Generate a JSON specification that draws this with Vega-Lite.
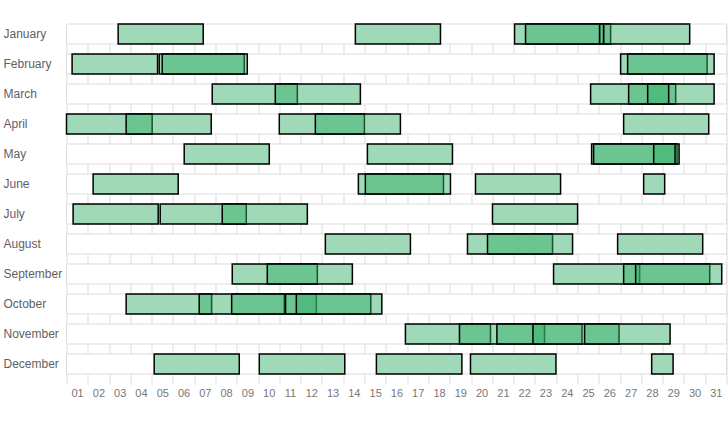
{
  "$schema": "https://vega.github.io/schema/vega-lite/v6.json",
  "width": 660,
  "height": 360,
  "autosize": {"type": "none"},
  "padding": {"left": 66.5, "top": 24, "right": 1.5, "bottom": 41},
  "background": "white",
  "config": {
    "view": {"stroke": null},
    "font": "Liberation Sans",
    "axisX": {"labelFont": "Liberation Sans", "labelFontSize": 11, "labelColor": "#777777"},
    "axisY": {"labelFont": "Liberation Sans", "labelFontSize": 12, "labelColor": "#5f5f5f"}
  },
  "datasets": {
    "months": [
      {"month": "January"}, {"month": "February"}, {"month": "March"}, {"month": "April"},
      {"month": "May"}, {"month": "June"}, {"month": "July"}, {"month": "August"},
      {"month": "September"}, {"month": "October"}, {"month": "November"}, {"month": "December"}
    ],
    "bars": [
      {"month": "January", "start": 2.426, "end": 6.422},
      {"month": "January", "start": 13.568, "end": 17.565},
      {"month": "January", "start": 21.044, "end": 25.040},
      {"month": "January", "start": 21.561, "end": 25.557},
      {"month": "January", "start": 25.040, "end": 25.228},
      {"month": "January", "start": 25.228, "end": 29.271},
      {"month": "February", "start": 0.263, "end": 4.278},
      {"month": "February", "start": 4.354, "end": 8.350},
      {"month": "February", "start": 4.495, "end": 8.491},
      {"month": "February", "start": 26.027, "end": 30.089},
      {"month": "February", "start": 26.356, "end": 30.418},
      {"month": "March", "start": 6.845, "end": 10.842},
      {"month": "March", "start": 9.807, "end": 13.803},
      {"month": "March", "start": 24.617, "end": 28.613},
      {"month": "March", "start": 26.403, "end": 30.418},
      {"month": "March", "start": 27.297, "end": 28.284},
      {"month": "April", "start": 0, "end": 4.024},
      {"month": "April", "start": 2.802, "end": 6.798},
      {"month": "April", "start": 9.995, "end": 13.992},
      {"month": "April", "start": 11.688, "end": 15.684},
      {"month": "April", "start": 26.168, "end": 30.165},
      {"month": "May", "start": 5.529, "end": 9.525},
      {"month": "May", "start": 14.133, "end": 18.129},
      {"month": "May", "start": 24.664, "end": 28.679},
      {"month": "May", "start": 24.758, "end": 28.773},
      {"month": "May", "start": 27.579, "end": 28.585},
      {"month": "June", "start": 1.251, "end": 5.247},
      {"month": "June", "start": 13.709, "end": 17.706},
      {"month": "June", "start": 14.038, "end": 18.035},
      {"month": "June", "start": 19.210, "end": 23.206},
      {"month": "June", "start": 27.108, "end": 28.096},
      {"month": "July", "start": 0.310, "end": 4.307},
      {"month": "July", "start": 4.401, "end": 8.444},
      {"month": "July", "start": 7.315, "end": 11.312},
      {"month": "July", "start": 20.009, "end": 24.006},
      {"month": "August", "start": 12.158, "end": 16.154},
      {"month": "August", "start": 18.834, "end": 22.830},
      {"month": "August", "start": 19.774, "end": 23.770},
      {"month": "August", "start": 25.886, "end": 29.882},
      {"month": "September", "start": 7.786, "end": 11.782},
      {"month": "September", "start": 9.431, "end": 13.427},
      {"month": "September", "start": 22.877, "end": 26.921},
      {"month": "September", "start": 26.168, "end": 30.212},
      {"month": "September", "start": 26.732, "end": 30.776},
      {"month": "October", "start": 2.802, "end": 6.817},
      {"month": "October", "start": 6.234, "end": 10.230},
      {"month": "October", "start": 7.757, "end": 11.735},
      {"month": "October", "start": 10.287, "end": 14.292},
      {"month": "October", "start": 10.795, "end": 14.810},
      {"month": "November", "start": 15.919, "end": 19.915},
      {"month": "November", "start": 18.458, "end": 22.454},
      {"month": "November", "start": 20.216, "end": 24.213},
      {"month": "November", "start": 21.909, "end": 25.952},
      {"month": "November", "start": 24.335, "end": 28.350},
      {"month": "December", "start": 4.118, "end": 8.115},
      {"month": "December", "start": 9.055, "end": 13.070},
      {"month": "December", "start": 14.556, "end": 18.571},
      {"month": "December", "start": 18.975, "end": 22.990},
      {"month": "December", "start": 27.485, "end": 28.491}
    ]
  },
  "encoding": {
    "y": {
      "field": "month",
      "type": "nominal",
      "title": null,
      "scale": {
        "domain": ["January", "February", "March", "April", "May", "June", "July", "August", "September", "October", "November", "December"],
        "paddingInner": 0.33333,
        "paddingOuter": 0.166667,
        "align": 0
      },
      "axis": {
        "domain": false,
        "ticks": false,
        "tickSize": 0,
        "grid": false,
        "labelAlign": "left",
        "labelPadding": 63.5
      }
    }
  },
  "layer": [
    {
      "data": {"name": "months"},
      "mark": {"type": "rect", "fill": "white", "stroke": "#dddddd", "strokeWidth": 1},
      "encoding": {
        "x": {
          "datum": 0,
          "type": "quantitative",
          "title": null,
          "scale": {"domain": [0, 31], "nice": false, "zero": false},
          "axis": {
            "values": [0,1,2,3,4,5,6,7,8,9,10,11,12,13,14,15,16,17,18,19,20,21,22,23,24,25,26,27,28,29,30,31],
            "labelExpr": "datum.value < 31 ? (datum.value + 1 < 10 ? '0' + (datum.value + 1) : '' + (datum.value + 1)) : ''",
            "labelOffset": 10.6,
            "labelFlush": false,
            "labelOverlap": false,
            "labelPadding": 3,
            "domain": false,
            "ticks": false,
            "tickSize": 0,
            "grid": true,
            "gridColor": "#dddddd",
            "gridWidth": 1
          }
        },
        "x2": {"datum": 31}
      }
    },
    {
      "data": {"name": "bars"},
      "mark": {"type": "rect", "fill": "#32ae66", "fillOpacity": 0.47, "stroke": "black", "strokeWidth": 1.5},
      "encoding": {
        "x": {
          "field": "start",
          "type": "quantitative",
          "title": null,
          "scale": {"domain": [0, 31], "nice": false, "zero": false},
          "axis": {
            "values": [0,1,2,3,4,5,6,7,8,9,10,11,12,13,14,15,16,17,18,19,20,21,22,23,24,25,26,27,28,29,30,31],
            "labelExpr": "datum.value < 31 ? (datum.value + 1 < 10 ? '0' + (datum.value + 1) : '' + (datum.value + 1)) : ''",
            "labelOffset": 10.6,
            "labelFlush": false,
            "labelOverlap": false,
            "labelPadding": 3,
            "domain": false,
            "ticks": false,
            "tickSize": 0,
            "grid": true,
            "gridColor": "#dddddd",
            "gridWidth": 1
          }
        },
        "x2": {"field": "end"}
      }
    }
  ]
}
